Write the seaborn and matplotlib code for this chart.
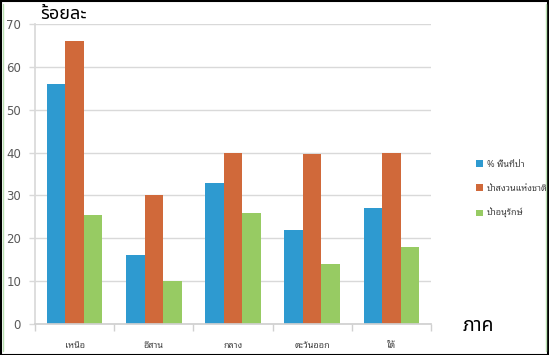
import matplotlib
matplotlib.use("Agg")
import matplotlib.pyplot as plt
import seaborn as sns
import pandas as pd
from matplotlib.lines import Line2D
from matplotlib.patches import Rectangle

regions = ["เหนือ", "อีสาน", "กลาง", "ตะวันออก", "ใต้"]
series_names = ["% พื้นที่ป่า", "ป่าสงวนแห่งชาติ", "ป่าอนุรักษ์"]
forest_area = [56.0, 16.2, 32.8, 22.0, 27.0]
national_reserve = [66.0, 30.1, 39.8, 39.6, 39.8]
conservation = [25.4, 10.0, 25.8, 13.9, 17.9]
y_ticks = [0, 10, 20, 30, 40, 50, 60, 70]
colors = ["#2E9AD0", "#D0693A", "#97CB63"]

df = pd.DataFrame({
    "region": regions * 3,
    "series": [series_names[0]] * 5 + [series_names[1]] * 5 + [series_names[2]] * 5,
    "value": forest_area + national_reserve + conservation,
})

sns.set_theme(style="white")
plt.rcParams['font.family'] = ['Noto Sans Thai Looped', 'DejaVu Sans']

fig = plt.figure(figsize=(5.49, 3.55), dpi=100)
ax = fig.add_axes([35/549, 1-324/355, (431-35)/549, 300/355])

sns.barplot(data=df, x="region", y="value", hue="series", order=regions,
            hue_order=series_names, palette=colors, width=0.7, gap=0,
            saturation=1, ax=ax, legend=False, edgecolor="none")

ax.set_ylim(0, 70)
ax.set_xlim(-0.5, 4.5)
ax.set_yticks(y_ticks)
ax.set_yticklabels([str(t) for t in y_ticks], fontsize=8.5, color="#595959",
                   family=['DejaVu Sans'])
ax.yaxis.grid(True, color="#D9D9D9", lw=1)
ax.set_axisbelow(True)
ax.tick_params(axis="y", length=4, color="#D9D9D9", width=1, pad=6, left=True)

ax.set_xticks(range(len(regions)))
ax.set_xticklabels(regions, fontsize=6.5, color="#404040")
ax.set_xticks([i - 0.5 for i in range(len(regions) + 1)], minor=True)
ax.tick_params(axis="x", which="major", length=0, pad=12)
ax.tick_params(axis="x", which="minor", length=5, color="#D0D0D0", width=1, bottom=True)

for s in ["top", "right"]:
    ax.spines[s].set_visible(False)
ax.spines["left"].set_color("#D9D9D9")
ax.spines["bottom"].set_color("#D0D0D0")
ax.set_xlabel("")
ax.set_ylabel("")

fig.text(40/549, 1-14/355, "ร้อยละ", fontsize=13, color="black", ha="left", va="center",
         family=['Noto Sans Thai', 'DejaVu Sans'], weight="bold")
fig.text(463/549, 1-326/355, "ภาค", fontsize=14, color="black", ha="left", va="center",
         family=['Noto Sans Thai', 'DejaVu Sans'])

handles = [Rectangle((0, 0), 1, 1, facecolor=c, edgecolor="none") for c in colors]
fig.legend(handles, series_names, loc="center left", bbox_to_anchor=(468/549, 1-189/355),
           frameon=False, fontsize=6.5, handlelength=0.8, handleheight=0.8,
           handletextpad=0.4, labelspacing=1.7, labelcolor="#404040")

fig.add_artist(Rectangle((0.5/549, 0.5/355), 547.5/549, 353.5/355, transform=fig.transFigure,
                         fill=False, edgecolor="black", lw=1.5))
fig.add_artist(Line2D([2.5/549, 2.5/549], [0.01, 0.99], transform=fig.transFigure,
                      color="#B8E0B0", lw=1))
fig.add_artist(Line2D([545.5/549, 545.5/549], [0.01, 0.99], transform=fig.transFigure,
                      color="#B8E0B0", lw=1))

fig.savefig("out.png", dpi=100, facecolor="white")
